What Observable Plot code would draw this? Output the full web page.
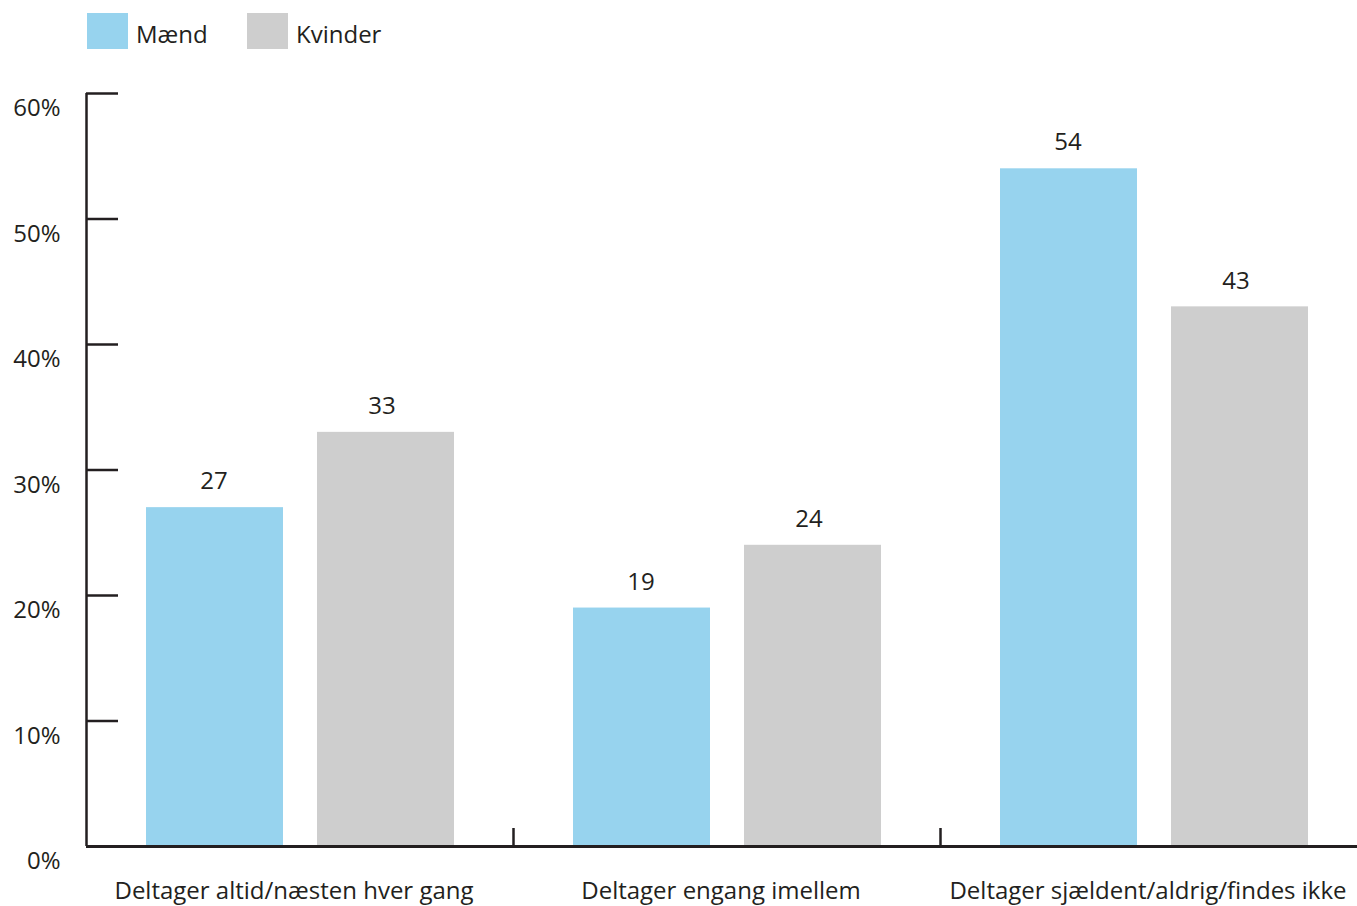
<!DOCTYPE html>
<html>
<head>
<meta charset="utf-8">
<script src="https://cdn.jsdelivr.net/npm/d3@7"></script>
<script src="https://cdn.jsdelivr.net/npm/@observablehq/plot@0.6"></script>
<style>
  html, body { margin: 0; padding: 0; background: #fff; overflow: hidden; }
  body { font-family: "Open Sans", sans-serif; color: #231f20; }
  #legend { position: relative; height: 70px; width: 1357px; }
  #legend .sw { position: absolute; top: 13px; width: 41px; height: 36px; }
  #legend .lb { position: absolute; top: 34px; transform: translateY(-50%); font-size: 24px; line-height: 1; }
  svg { display: block; }
</style>
</head>
<body>
<div id="legend"></div>
<div id="chart"></div>
<script>
const categories = ["Deltager altid/næsten hver gang", "Deltager engang imellem", "Deltager sjældent/aldrig/findes ikke"];
const series = ["Mænd", "Kvinder"];
const maend = [27, 19, 54];
const kvinder = [33, 24, 43];
const yTicks = [0, 10, 20, 30, 40, 50, 60];
const colors = ["#97d3ee", "#cecece"];
const ink = "#231f20";

const rows = categories.flatMap((c, i) => [
  {category: c, series: series[0], value: maend[i]},
  {category: c, series: series[1], value: kvinder[i]}
]);

// legend
const legend = document.getElementById("legend");
const legendPos = [{sw: 87, lb: 136}, {sw: 247, lb: 296}];
series.forEach((s, i) => {
  const sw = document.createElement("div");
  sw.className = "sw"; sw.style.left = legendPos[i].sw + "px"; sw.style.background = colors[i];
  const lb = document.createElement("div");
  lb.className = "lb"; lb.style.left = legendPos[i].lb + "px"; lb.textContent = s;
  legend.append(sw, lb);
});

const half = 213.5;
const chart = Plot.plot({
  width: 1357,
  height: 836,
  marginTop: 23,
  marginBottom: 60,
  marginLeft: 86,
  marginRight: -10,
  style: {fontFamily: "Open Sans, sans-serif", fontSize: "24px", color: ink, background: "#fff", overflow: "visible"},
  x: {domain: categories, padding: 0},
  y: {domain: [0, 60]},
  marks: [
    Plot.barY(rows.filter(d => d.series === series[0]), {x: "category", y: "value", fill: colors[0], insetLeft: 60, insetRight: 230}),
    Plot.barY(rows.filter(d => d.series === series[1]), {x: "category", y: "value", fill: colors[1], insetLeft: 231, insetRight: 59}),
    Plot.text(rows.filter(d => d.series === series[0]), {x: "category", y: "value", text: d => String(d.value), dx: -86, dy: -26, fill: ink}),
    Plot.text(rows.filter(d => d.series === series[1]), {x: "category", y: "value", text: d => String(d.value), dx: 82, dy: -26, fill: ink}),
    Plot.axisY({ticks: yTicks, tickFormat: d => d + "%", tickSize: 0, tickPadding: 26, dy: 15, fill: ink, label: null}),
    Plot.tickY(yTicks, {y: d => d, insetRight: 1249, stroke: ink, strokeWidth: 2.5}),
    Plot.axisX({tickSize: 0, tickPadding: 35, dx: -6, fill: ink, label: null}),
    Plot.ruleX([categories[0]], {x: d => d, dx: -half, stroke: ink, strokeWidth: 2.5}),
    Plot.ruleX(categories.slice(1), {x: d => d, dx: -half, insetTop: 735, stroke: ink, strokeWidth: 2.5}),
    Plot.ruleY([0], {stroke: ink, strokeWidth: 3})
  ]
});
document.getElementById("chart").append(chart);
</script>
</body>
</html>
